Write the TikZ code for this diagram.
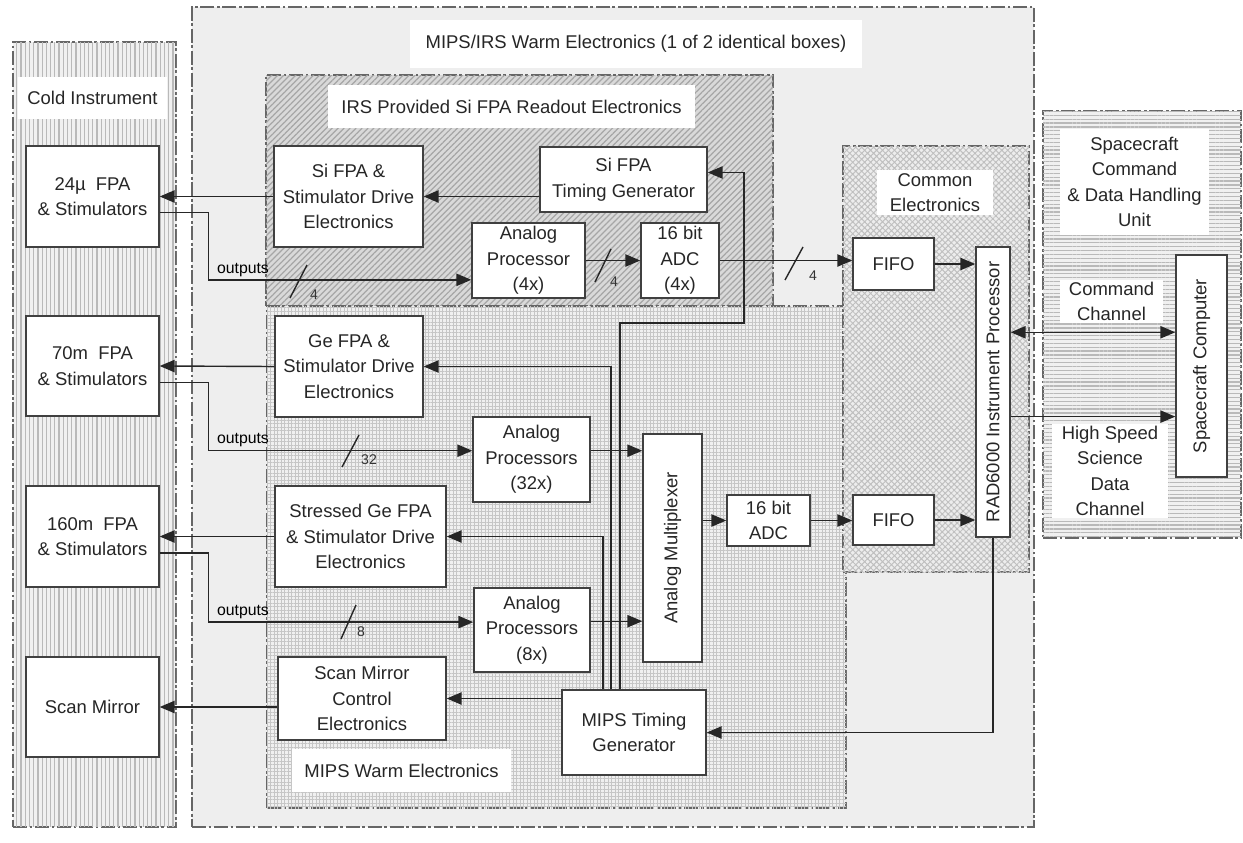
\documentclass[tikz,border=0pt]{standalone}
\usepackage{fontspec}
\setmainfont{Liberation Sans}
\usetikzlibrary{arrows.meta,fit,patterns.meta}

\newcommand\blkfont{\fontsize{10.5}{14.5}\selectfont}
\newcommand\busfont{\fontsize{8}{9}\selectfont}

\begin{document}
\begin{tikzpicture}[
  x=0.02cm, y=-0.02cm,
  >={Triangle[length=8.5pt,width=7pt]},
  zone/.style={draw=black!60, line width=0.7pt,
               dash pattern=on 8pt off 1.5pt on 1.5pt off 1.5pt, inner sep=0pt},
  blk/.style={draw=black!75, line width=0.8pt, fill=white, inner sep=0pt},
  tag/.style={fill=white, inner sep=0pt},
  txt/.style={align=center, font=\blkfont, inner sep=0pt, text=black!85},
  wire/.style={draw=black!85, line width=0.8pt, ->},
  slash/.style={draw=black!85, line width=0.8pt},
  busn/.style={font=\busfont, inner sep=1pt, text=black!80},
  outl/.style={font=\fontsize{9}{10}\selectfont, inner sep=1pt, anchor=south east},
]
  \useasboundingbox (0,0) rectangle (1243,842);

  %% outer zones
  \node[zone, fill=gray!13, fit={(192,7) (1034,827)}] (warm) {};
  \node[tag, fit={(410,20) (862,68)},
        label={[txt]center:MIPS/IRS Warm Electronics (1 of 2 identical boxes)}] (warml) {};

  \node[zone, fill=gray!12,
        postaction={pattern={Lines[angle=90,distance=2.4pt,line width=0.7pt]}, pattern color=gray!55},
        fit={(13,42) (176,827)}] (cold) {};
  \node[tag, fit={(18,77) (167,119)}, label={[txt]center:Cold Instrument}] (coldl) {};

  \node[zone, fill=gray!30,
        postaction={pattern={Lines[angle=45,distance=2.4pt,line width=0.7pt]}, pattern color=gray!70},
        fit={(266,75) (773,306)}] (irs) {};
  \node[tag, fit={(328,85) (695,128)},
        label={[txt]center:IRS Provided Si FPA Readout Electronics}] (irsl) {};

  \node[zone, fill=gray!12,
        postaction={pattern={Hatch[angle=0,distance=2pt,line width=0.45pt]}, pattern color=gray!45},
        fit={(267,306) (846,808)}] (mipsw) {};
  \node[tag, fit={(292,749) (511,792)}, label={[txt]center:MIPS Warm Electronics}] (mipswl) {};

  \node[zone, fill=gray!14,
        postaction={pattern={Hatch[angle=45,distance=2.4pt,line width=0.55pt]}, pattern color=gray!50},
        fit={(843,146) (1029,572)}] (common) {};
  \node[tag, fit={(877,170) (993,215)}, label={[txt]center:Common\\Electronics}] (commonl) {};

  \node[zone, fill=gray!12,
        postaction={pattern={Lines[angle=0,distance=2.2pt,line width=0.7pt]}, pattern color=gray!55},
        fit={(1043,111) (1241,538)}] (cdh) {};
  \node[tag, fit={(1060,129) (1209,235)},
        label={[txt]center:Spacecraft\\Command\\\& Data Handling\\Unit}] (cdhl) {};
  \node[tag, fit={(1060,280) (1163,323)}, label={[txt]center:Command\\Channel}] (cmdl) {};
  \node[tag, fit={(1052,424) (1168,518)},
        label={[txt]center:High Speed\\Science\\Data\\Channel}] (hsdl) {};

  %% cold instrument
  \node[blk, fit={(26,146) (159,247)}, label={[txt]center:24µ~ FPA\\\& Stimulators}] (fpa24) {};
  \node[blk, fit={(26,316) (159,416)}, label={[txt]center:70m~ FPA\\\& Stimulators}] (fpa70) {};
  \node[blk, fit={(26,486) (159,587)}, label={[txt]center:160m~ FPA\\\& Stimulators}] (fpa160) {};
  \node[blk, fit={(26,657) (159,757)}, label={[txt]center:Scan Mirror}] (scanm) {};

  %% IRS readout
  \node[blk, fit={(274,146) (423,247)},
        label={[txt]center:Si FPA \&\\Stimulator Drive\\Electronics}] (sidrv) {};
  \node[blk, fit={(540,147) (707,212)}, label={[txt]center:Si FPA\\Timing Generator}] (sitg) {};
  \node[blk, fit={(472,223) (585,298)}, label={[txt]center:Analog\\Processor\\(4x)}] (ap4) {};
  \node[blk, fit={(641,223) (719,298)}, label={[txt]center:16 bit\\ADC\\(4x)}] (adc4) {};

  %% MIPS warm
  \node[blk, fit={(275,316) (423,417)},
        label={[txt]center:Ge FPA \&\\Stimulator Drive\\Electronics}] (gedrv) {};
  \node[blk, fit={(473,417) (590,502)}, label={[txt]center:Analog\\Processors\\(32x)}] (ap32) {};
  \node[blk, fit={(275,486) (446,587)},
        label={[txt]center:Stressed Ge FPA\\\& Stimulator Drive\\Electronics}] (sgedrv) {};
  \node[blk, fit={(474,588) (590,672)}, label={[txt]center:Analog\\Processors\\(8x)}] (ap8) {};
  \node[blk, fit={(278,657) (446,740)},
        label={[txt]center:Scan Mirror\\Control\\Electronics}] (smce) {};
  \node[blk, fit={(562,690) (706,775)}, label={[txt]center:MIPS Timing\\Generator}] (mtg) {};
  \node[blk, fit={(643,434) (702,662)},
        label={[txt, rotate=90]center:Analog Multiplexer}] (amux) {};
  \node[blk, fit={(727,495) (810,546)}, label={[txt]center:16 bit\\ADC}] (adc16) {};

  %% common electronics
  \node[blk, fit={(853,238) (934,290)}, label={[txt]center:FIFO}] (fifoa) {};
  \node[blk, fit={(853,495) (934,545)}, label={[txt]center:FIFO}] (fifob) {};
  \node[blk, fit={(976,247) (1010,537)},
        label={[txt, rotate=90]center:RAD6000 Instrument Processor}] (rad) {};

  %% spacecraft
  \node[blk, fit={(1176,255) (1227,477)},
        label={[txt, rotate=90]center:Spacecraft Computer}] (scc) {};

  %% drive lines to the cold instrument
  \draw[wire] (sidrv.west) -- (fpa24.east);
  \draw[wire] (gedrv.west) -- (fpa70.east);
  \draw[wire] (sgedrv.west) -- (fpa160.east);
  \draw[wire] (smce.west |- scanm.east) -- (scanm.east);

  %% detector outputs
  \draw[wire] ([yshift=-9pt]fpa24.east) -- ++(49,0) |- ([yshift=-11pt]ap4.west);
  \node[outl] (out24) at (271,279) {outputs};
  \draw[slash] (290,298) -- (307,265);
  \node[busn] (n24) at (314,295) {4};

  \draw[wire] ([yshift=-9.5pt]fpa70.east) -- ++(49,0) |- ([yshift=5pt]ap32.west);
  \node[outl] (out70) at (271,449) {outputs};
  \draw[slash] (342,467) -- (359,435);
  \node[busn] (n70) at (369,460) {32};

  \draw[wire] ([yshift=-9.5pt]fpa160.east) -- ++(49,0) |- ([yshift=4.5pt]ap8.west);
  \node[outl] (out160) at (271,621) {outputs};
  \draw[slash] (341,639) -- (356,605);
  \node[busn] (n160) at (361,632) {8};

  %% IRS chain
  \draw[wire] (sitg.west |- sidrv.east) -- (sidrv.east);
  \draw[wire] (ap4.east) -- (ap4.east -| adc4.west);
  \draw[slash] (595,282) -- (611,249);
  \node[busn] (nap4) at (614,282) {4};
  \draw[wire] (adc4.east) -- (adc4.east -| fifoa.west);
  \draw[slash] (785,280) -- (803,247);
  \node[busn] (nadc4) at (813,276) {4};
  \draw[wire] (fifoa.east) -- (fifoa.east -| rad.west);

  %% MIPS chain
  \draw[wire] ([yshift=5pt]ap32.east) -- ([yshift=5pt]ap32.east -| amux.west);
  \draw[wire] ([yshift=5pt]ap8.east) -- ([yshift=5pt]ap8.east -| amux.west);
  \draw[wire] (adc16.west -| amux.east) -- (adc16.west);
  \draw[wire] (adc16.east) -- (adc16.east -| fifob.west);
  \draw[wire] (fifob.east) -- (fifob.east -| rad.west);

  %% timing
  \draw[wire] (mtg.west |- smce.east) -- (smce.east);
  \draw[wire] ([xshift=-17.6pt]mtg.north) |- (sgedrv.east);
  \draw[wire] ([xshift=-13pt]mtg.north) |- (gedrv.east);
  \coordinate (sibend) at (744,323);
  \draw[wire] ([xshift=-8pt]mtg.north) |- (sibend) |- ([yshift=4pt]sitg.east);
  \draw[wire] (rad.south) |- (mtg.east);

  %% spacecraft links
  \draw[wire, <->] ([yshift=34pt]rad.east) -- ([yshift=34pt]rad.east -| scc.west);
  \draw[wire] ([yshift=-14pt]rad.east) -- ([yshift=-14pt]rad.east -| scc.west);
\end{tikzpicture}
\end{document}
